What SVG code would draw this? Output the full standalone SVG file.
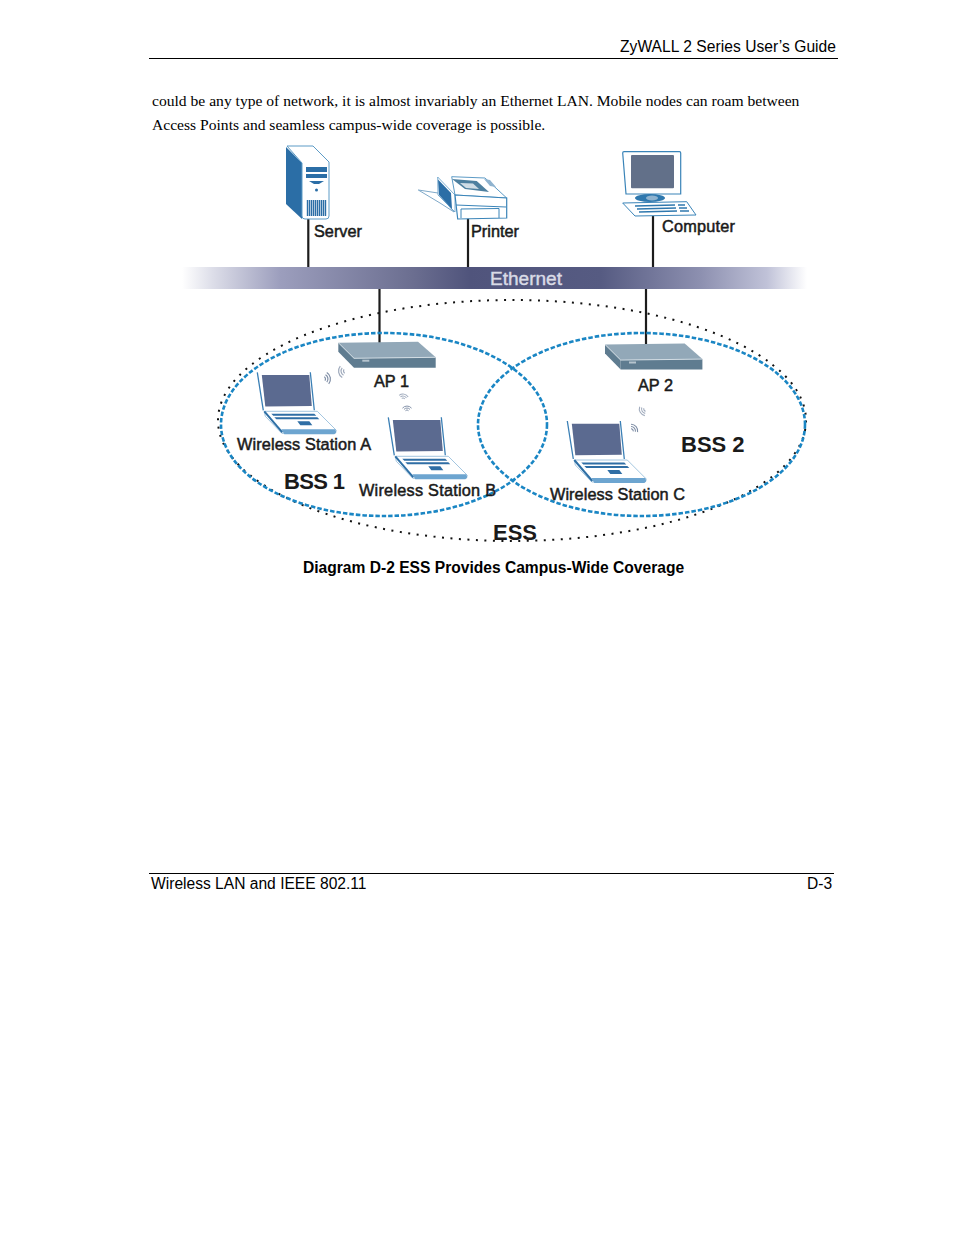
<svg xmlns="http://www.w3.org/2000/svg" width="954" height="1235" viewBox="0 0 954 1235">
<style>
text{font-family:"Liberation Sans",Arial,sans-serif;fill:#000}
.body{font-family:"Liberation Serif","Times New Roman",serif;font-size:15.6px}
.page{font-size:15.6px}
.cap{font-size:15.6px;font-weight:700}
.lbl{font-size:16.3px;fill:#1a1a1a;stroke:#1a1a1a;stroke-width:.5}
.big{font-size:22px;font-weight:700;fill:#1a1a1a}
.wire{stroke:#1c1c1c;stroke-width:2.2;fill:none}
.ess{fill:none;stroke:#111;stroke-width:2;stroke-dasharray:2 6.500}
.bss{fill:none;stroke:#1a86c4;stroke-width:2.6;stroke-dasharray:4.500 2}
.wave{fill:none;stroke:#7f8ea6;stroke-width:1.200}
.rule{stroke:#000;stroke-width:1}
</style>
<defs>
<linearGradient id="bar" x1="0" x2="1" y1="0" y2="0">
<stop offset="0" stop-color="#ffffff"/>
<stop offset=".05" stop-color="#dcdde8"/>
<stop offset=".157" stop-color="#9c9ebd"/>
<stop offset=".37" stop-color="#6b6e90"/>
<stop offset=".46" stop-color="#50547c"/>
<stop offset=".67" stop-color="#565b82"/>
<stop offset=".83" stop-color="#8d90b0"/>
<stop offset=".936" stop-color="#c0c2d8"/>
<stop offset="1" stop-color="#ffffff"/>
</linearGradient>
<g id="laptop">
<path d="M0 0L6 38M53 0L57 38" stroke="#3a7fb5" stroke-width="1.300" fill="none"/>
<path d="M4.500 2.700L52 2.700L54.500 33.700L8 34.300Z" fill="#5b6a90"/>
<path d="M7 39L60 39L79 58L78 61L24.500 61L8 44Z" fill="#fff" stroke="#8db8d8" stroke-width=".8"/>
<path d="M7 39L25 60" stroke="#2e6fa5" stroke-width="2" fill="none"/>
<path d="M14 41.500L57 41.500L59 43.500L16 43.500ZM17 45L60 45L62 47L19 47Z" fill="#2f6ea5"/>
<path d="M40 49L52 49L55 53L43 53Z" fill="#2f6ea5"/>
<path d="M24 57L78 57L79 60L77 62L27 62Z" fill="#6da5d0"/>
</g>
<g id="ap">
<path d="M0 1L79.700 0L97.400 15.600L15.700 16.600Z" fill="#92a8b8"/>
<path d="M15.700 16.600L97.400 15.600L97.400 26L15.700 26Z" fill="#5f7c90"/>
<path d="M0 1L15.700 16.600L15.700 26L0 10Z" fill="#5f7c90"/>
<path d="M0 1L15.700 16.600L97.400 15.600" fill="none" stroke="#e4ecf1" stroke-width=".8"/>
<rect x="24" y="18" width="7" height="2" fill="#b6c4ce"/>
</g>
<g id="waves">
<path class="wave" d="M1.600 -1.900A2.500 2.500 0 0 1 1.600 1.900M3.200 -3.800A5 5 0 0 1 3.200 3.800M4.800 -5.700A7.500 7.500 0 0 1 4.800 5.700"/>
</g>
</defs>

<g id="header">
<text class="page" x="620" y="52" textLength="216">ZyWALL 2 Series User’s Guide</text>
<line class="rule" x1="149" y1="58.500" x2="838" y2="58.500"/>
</g>
<g id="body-text">
<text class="body" x="152" y="106">could be any type of network, it is almost invariably an Ethernet LAN. Mobile nodes can roam between</text>
<text class="body" x="152" y="130">Access Points and seamless campus-wide coverage is possible.</text>
</g>

<g id="ess-boundary"><ellipse class="ess" cx="512" cy="420.500" rx="294" ry="120.500"/></g>

<g id="connectors">
<line class="wire" x1="308.300" y1="219" x2="308.300" y2="267"/>
<line class="wire" x1="468" y1="218" x2="468" y2="267"/>
<line class="wire" x1="653" y1="216" x2="653" y2="267"/>
<line class="wire" x1="379.500" y1="289" x2="379.500" y2="343"/>
<line class="wire" x1="646" y1="289" x2="646" y2="345"/>
</g>

<g id="ethernet">
<rect x="182" y="267" width="625" height="22" fill="url(#bar)"/>
<text x="490" y="285" font-size="18" style="fill:#d9dbe6;stroke:#d9dbe6;stroke-width:.4" textLength="72" lengthAdjust="spacingAndGlyphs">Ethernet</text>
</g>

<g id="server">
<path d="M286 147L302 163L302 219L286 204Z" fill="#2b6ea6"/>
<path d="M287 146L313 146L329 162L329 216Q329 219 326 219L305 219Q302 219 302 216L302 163Z" fill="#fff" stroke="#5d9bc6" stroke-width="1"/>
<rect x="306" y="167" width="21" height="5" fill="#2b6ea6"/>
<rect x="306" y="174" width="21" height="4" fill="#2b6ea6"/>
<path d="M309 181L324 181L319 184L314 184Z" fill="#2b6ea6"/>
<circle cx="316.500" cy="190" r="1.500" fill="#2b6ea6"/>
<path d="M307.500 200V216M309.500 200V216M311.500 200V216M313.500 200V216M315.500 200V216M317.500 200V216M319.500 200V216M321.500 200V216M323.500 200V216M325.500 200V216" stroke="#2b6ea6" stroke-width="1.400"/>
<text class="lbl" x="314" y="237">Server</text>
</g>

<g id="printer">
<path d="M418.300 190L438 193L454 212L440 203Z" fill="#fff" stroke="#7fa9c9" stroke-width="1"/>
<path d="M437.700 177L455 195L455 212L438 195Z" fill="#fff" stroke="#5d9bc6" stroke-width=".8"/>
<path d="M438 179.500L451 193L452 209L439 195Z" fill="#2b6ea6"/>
<path d="M451.700 176.700L485 178L506.700 198L455 195Z" fill="#fff" stroke="#5d9bc6" stroke-width="1"/>
<path d="M452 179L476.700 181L489 192L465 189Z" fill="#4d7f9f"/>
<path d="M460 183L473 183.500L479 189L466 188Z" fill="#d0dde6"/>
<path d="M484 179L490 180L496 187L490 186Z" fill="#8fb3cf"/>
<path d="M455 195L506.700 198L506.700 218L457.700 219Z" fill="#fff" stroke="#3a84b8" stroke-width="1.200"/>
<path d="M456 205L506 207M461 209L499 208.500M461 209V218M499 208.500V218" stroke="#3a84b8" fill="none" stroke-width="1"/>
<text class="lbl" x="471" y="237">Printer</text>
</g>

<g id="computer">
<path d="M622.700 153Q622.700 151.700 624 151.700L679.500 151.700Q680.700 151.700 680.700 153L680.700 194L626 194Z" fill="#fff" stroke="#3a84b8" stroke-width="1.200"/>
<rect x="631" y="155" width="43" height="33.300" rx="1" fill="#627089"/>
<ellipse cx="650" cy="198" rx="15" ry="4" fill="#2f78ae"/>
<ellipse cx="652" cy="198" rx="6" ry="2.500" fill="#8fb3cf"/>
<path d="M622.700 203L686.700 201.700L696 215L635 216Z" fill="#fff" stroke="#3a84b8" stroke-width="1"/>
<path d="M635 206L675 205M637 209L676 208M639 212L677 211M678 205L685 205M679 208L687 208M680 211L689 211" stroke="#2f78ae" stroke-width="1.300"/>
<text class="lbl" x="662" y="232" textLength="73">Computer</text>
</g>

<g id="bss-1"><ellipse class="bss" cx="384" cy="424.500" rx="163" ry="91.500"/><text class="big" x="284" y="489" textLength="61">BSS 1</text></g>
<g id="bss-2"><ellipse class="bss" cx="641.500" cy="424.500" rx="163.500" ry="91.500"/><text class="big" x="681" y="452">BSS 2</text></g>

<g id="ap-1"><use href="#ap" x="338.300" y="341.700"/><text class="lbl" x="374" y="387">AP 1</text></g>
<g id="ap-2"><use href="#ap" x="605" y="343.500"/><text class="lbl" x="638" y="391">AP 2</text></g>

<g id="station-a">
<use href="#laptop" x="257.300" y="372.300"/>
<use href="#waves" transform="translate(323 379) rotate(-10)"/>
<use href="#waves" transform="translate(346 371) rotate(170)" opacity=".75"/>
<text class="lbl" x="237" y="450" textLength="134">Wireless Station A</text>
</g>
<g id="station-b">
<use href="#laptop" x="388.300" y="417.300"/>
<use href="#waves" transform="translate(403 400) rotate(-80) scale(.8)" opacity=".75"/>
<use href="#waves" transform="translate(407 412) rotate(-90) scale(.8)"/>
<text class="lbl" x="359" y="496" textLength="137">Wireless Station B</text>
</g>
<g id="station-c">
<use href="#laptop" x="567.300" y="421"/>
<use href="#waves" transform="translate(646 409) rotate(150) scale(.9)" opacity=".75"/>
<use href="#waves" transform="translate(631 431) rotate(-40) scale(.9)"/>
<text class="lbl" x="550" y="500" textLength="135">Wireless Station C</text>
</g>
<g id="ess-label"><text class="big" x="493" y="540">ESS</text></g>

<g id="caption"><text class="cap" x="303" y="573">Diagram D-2 ESS Provides Campus-Wide Coverage</text></g>

<g id="footer">
<line class="rule" x1="149" y1="873.500" x2="834" y2="873.500"/>
<text class="page" x="151" y="889">Wireless LAN and IEEE 802.11</text>
<text class="page" x="807" y="889">D-3</text>
</g>
</svg>
